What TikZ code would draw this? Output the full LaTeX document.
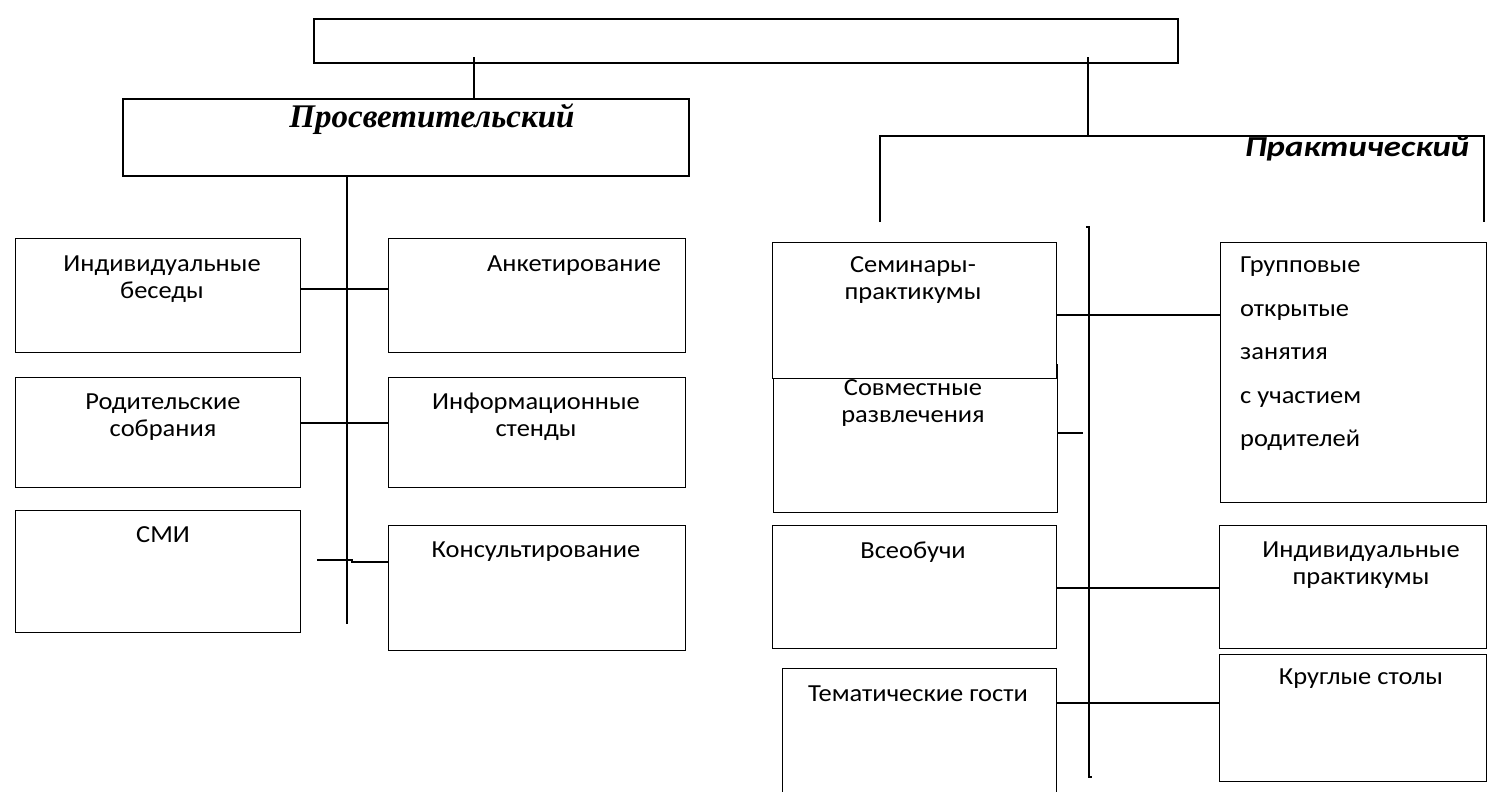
\documentclass[tikz,border=0pt]{standalone}
\usepackage{fontspec}
\setmainfont{Carlito}
\newfontfamily\tnr{Liberation Serif}
\begin{document}
\begin{tikzpicture}[x=1pt,y=-1pt,
  box/.style={draw,line width=1.3pt,fill=white,anchor=north west,inner sep=0pt},
  thickbox/.style={draw,line width=2.2pt,anchor=north west,inner sep=0pt},
  conn/.style={line width=1.7pt},
  txt/.style={font=\fontsize{24.5}{27}\selectfont,align=center,inner sep=0pt,xscale=1.08}]
\useasboundingbox (0,0) rectangle (1488,792);
% top level
\node[thickbox,minimum width=864pt,minimum height=44pt] (top) at (313,18) {};
\node[thickbox,minimum width=566pt,minimum height=77pt] (pros) at (122,98) {};
\node[font=\tnr\bfseries\itshape\fontsize{33}{36}\selectfont,inner sep=0pt] (prost) at (432,119) {Просветительский};
\coordinate (lx) at (474,0);
\coordinate (rx) at (1088,0);
\draw[conn] ([yshift=7pt]top.south -| lx) -- (pros.north -| lx);
% practical header (open box)
\coordinate (pk1) at (880,222);
\coordinate (pk2) at (880,136);
\coordinate (pk3) at (1484,136);
\coordinate (pk4) at (1484,222);
\draw[line width=2.2pt] (pk1) -- (pk2) -- (pk3) -- (pk4);
\node[font=\bfseries\itshape\fontsize{29}{32}\selectfont,inner sep=0pt,xscale=1.2] (prakt) at (1357,149) {Практический};
\draw[conn] ([yshift=7pt]top.south -| rx) -- (pk2 -| rx);
% left column
\coordinate (lv1) at (347,175);
\coordinate (lv2) at (347,624);
\draw[line width=2pt] (pros.south -| lv1) -- (lv2);
\node[box,minimum width=285pt,minimum height=114pt] (ib) at (15,238) {};
\node[box,minimum width=297pt,minimum height=114pt] (ank) at (388,238) {};
\node[box,minimum width=285pt,minimum height=110pt] (rod) at (15,377) {};
\node[box,minimum width=297pt,minimum height=110pt] (inf) at (388,377) {};
\node[box,minimum width=285pt,minimum height=122pt] (smi) at (15,510) {};
\node[box,minimum width=297pt,minimum height=125pt] (kons) at (388,525) {};
\node[txt] (ibt) at (162,279) {Индивидуальные\\беседы};
\node[txt] (ankt) at (574,266) {Анкетирование};
\node[txt] (rodt) at (163,417) {Родительские\\собрания};
\node[txt] (inft) at (536,417) {Информационные\\стенды};
\node[txt] (smit) at (163,535) {СМИ};
\node[txt] (konst) at (536,552) {Консультирование};
\draw[conn] ([yshift=7pt]ib.east) -- ([yshift=7pt]ank.west);
\draw[conn] ([yshift=10pt]rod.east) -- ([yshift=10pt]inf.west);
\coordinate (sm1) at (317,560);
\coordinate (sm2) at (352,560);
\coordinate (sm3) at (352,562);
\draw[conn] (sm1) -- (sm2) -- (sm3) -- (sm3 -| kons.west);
% right column
\coordinate (rv1) at (1089,227);
\coordinate (rv2) at (1089,777);
\draw[line width=2pt] ([xshift=-3pt]rv1) -- (rv1) -- (rv2) -- ([xshift=3pt]rv2);
\node[box,minimum width=284pt,minimum height=148pt] (sov) at (773,364) {};
\node[box,minimum width=284pt,minimum height=136pt] (sem) at (772,242) {};
\node[box,minimum width=266pt,minimum height=260pt] (grp) at (1220,242) {};
\node[box,minimum width=284pt,minimum height=123pt] (vse) at (772,525) {};
\node[box,minimum width=267pt,minimum height=123pt] (ipr) at (1219,525) {};
\node[box,minimum width=274pt,minimum height=130pt] (tem) at (782,668) {};
\node[box,minimum width=267pt,minimum height=127pt] (kru) at (1219,654) {};
\node[txt] (semt) at (913,280) {Семинары-\\практикумы};
\node[txt] (sovt) at (913,403) {Совместные\\развлечения};
\node[txt,font=\fontsize{24.5}{43.5}\selectfont,align=left,anchor=north west] (grpt) at (1240,257) {Групповые\\открытые\\занятия\\с участием\\родителей};
\node[txt] (vset) at (913,552) {Всеобучи};
\node[txt] (iprt) at (1361,565) {Индивидуальные\\практикумы};
\node[txt] (krut) at (1361,679) {Круглые столы};
\node[txt] (temt) at (918,694) {Тематические гости};
\draw[conn] ([yshift=-4pt]sem.east) -- ([yshift=-4pt]grp.west |- sem.east);
\coordinate (sv) at (1083,433);
\draw[conn] (sov.east |- sv) -- (sv);
\draw[conn] ([yshift=-0.5pt]vse.east) -- ([yshift=-0.5pt]ipr.west);
\draw[conn] (tem.east |- 0,703) -- (kru.west |- 0,703);
\end{tikzpicture}
\end{document}
